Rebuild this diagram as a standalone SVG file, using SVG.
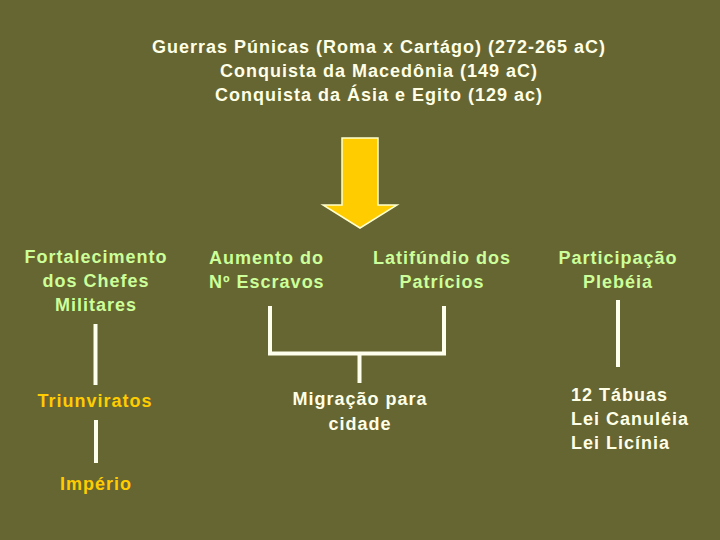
<svg xmlns="http://www.w3.org/2000/svg" width="720" height="540" viewBox="0 0 720 540">
<style>
text{font-family:"Liberation Sans",Arial,sans-serif;font-size:18px;font-weight:bold;letter-spacing:1px}
.w{fill:#FFFFE6}
.g{fill:#CCFF99}
.y{fill:#FFCC00}
.c{text-anchor:middle}
.ln{stroke:#FFFFEE;stroke-width:4;fill:none}
</style>
<rect width="720" height="540" fill="#666633"/>
<g id="causes">
<text class="w c" x="379" y="53">Guerras Púnicas (Roma x Cartágo) (272-265 aC)</text>
<text class="w c" x="379" y="77">Conquista da Macedônia (149 aC)</text>
<text class="w c" x="379" y="101">Conquista da Ásia e Egito (129 ac)</text>
</g>
<g id="arrow">
<polygon points="342,138 378,138 378,205 397,205 360,228 323,205 342,205" fill="#FFCC00" stroke="#FFFFCC" stroke-width="1.5"/>
</g>
<g id="fortalecimento">
<text class="g c" x="96" y="263">Fortalecimento</text>
<text class="g c" x="96" y="287">dos Chefes</text>
<text class="g c" x="96" y="311">Militares</text>
</g>
<g id="triunviratos"><text class="y c" x="95" y="407">Triunviratos</text></g>
<g id="imperio"><text class="y c" x="96" y="490">Império</text></g>
<g id="aumento">
<text class="g" x="209" y="264">Aumento do</text>
<text class="g" x="209" y="288">Nº Escravos</text>
</g>
<g id="latifundio">
<text class="g c" x="442" y="264">Latifúndio dos</text>
<text class="g c" x="442" y="288">Patrícios</text>
</g>
<g id="migracao">
<text class="w c" x="360" y="405">Migração para</text>
<text class="w c" x="360" y="430">cidade</text>
</g>
<g id="participacao">
<text class="g c" x="618" y="264">Participação</text>
<text class="g c" x="618" y="288">Plebéia</text>
</g>
<g id="leis">
<text class="w" x="571" y="401">12 Tábuas</text>
<text class="w" x="571" y="425">Lei Canuléia</text>
<text class="w" x="571" y="449">Lei Licínia</text>
</g>
<g id="connectors">
<line class="ln" x1="95.5" y1="324" x2="95.5" y2="385"/>
<line class="ln" x1="96" y1="420" x2="96" y2="463"/>
<polyline class="ln" points="270,306 270,353.5 444,353.5 444,306"/>
<line class="ln" x1="359.5" y1="353.5" x2="359.5" y2="383"/>
<line class="ln" x1="618" y1="300" x2="618" y2="367"/>
</g>
</svg>
